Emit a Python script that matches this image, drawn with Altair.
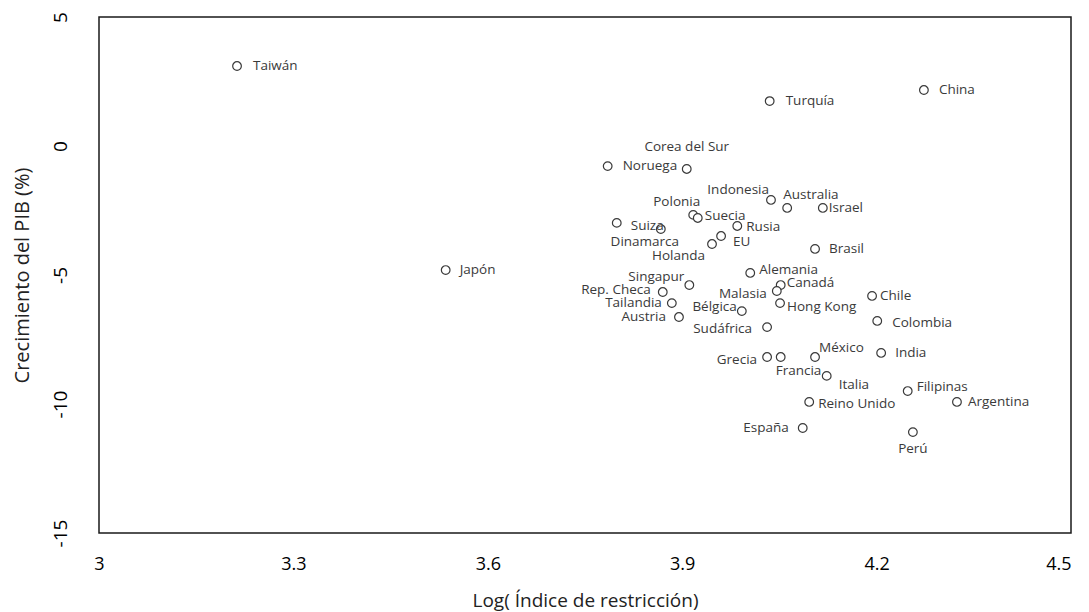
import altair as alt
import pandas as pd

countries = ["Taiwán", "Japón", "Turquía", "China", "Noruega", "Corea del Sur",
             "Indonesia", "Australia", "Israel", "Polonia", "Suecia", "Rusia",
             "Suiza", "Dinamarca", "EU", "Holanda", "Brasil", "Alemania",
             "Singapur", "Canadá", "Rep. Checa", "Malasia", "Tailandia",
             "Hong Kong", "Chile", "Bélgica", "Austria", "Sudáfrica", "Grecia",
             "Francia", "México", "Italia", "Reino Unido", "España", "Colombia",
             "India", "Filipinas", "Argentina", "Perú"]
log_index = [3.213, 3.535, 4.035, 4.273, 3.785, 3.907,
             4.037, 4.062, 4.117, 3.917, 3.924, 3.985,
             3.799, 3.867, 3.960, 3.946, 4.105, 4.005,
             3.911, 4.052, 3.870, 4.046, 3.884,
             4.051, 4.193, 3.992, 3.895, 4.031, 4.031,
             4.052, 4.105, 4.123, 4.096, 4.086, 4.201,
             4.207, 4.248, 4.324, 4.256]
gdp_growth = [3.10, -4.81, 1.74, 2.17, -0.78, -0.89,
              -2.09, -2.40, -2.40, -2.67, -2.79, -3.10,
              -2.98, -3.22, -3.49, -3.80, -3.99, -4.92,
              -5.39, -5.39, -5.66, -5.62, -6.09,
              -6.09, -5.81, -6.40, -6.63, -7.02, -8.18,
              -8.18, -8.18, -8.91, -9.92, -10.93, -6.78,
              -8.02, -9.50, -9.92, -11.09]

x_ticks = [3, 3.3, 3.6, 3.9, 4.2, 4.5]
y_ticks = [-15, -10, -5, 0, 5]

# label placement (style): dx, dy in px and alignment
placement = {
    "Taiwán": (16, 0, "left"), "Japón": (14, 0, "left"), "Turquía": (16, 0, "left"),
    "China": (15, 0, "left"), "Noruega": (15, 0, "left"),
    "Corea del Sur": (0, -22, "center"), "Indonesia": (-2, -10, "right"),
    "Australia": (-4, -13, "left"), "Israel": (6, 0, "left"),
    "Polonia": (7, -13, "right"), "Suecia": (7, -2, "left"), "Rusia": (9, 1, "left"),
    "Suiza": (14, 3, "left"), "Dinamarca": (-16, 13, "center"), "EU": (12, 6, "left"),
    "Holanda": (-7, 12, "right"), "Brasil": (14, 0, "left"), "Alemania": (9, -3, "left"),
    "Singapur": (-5, -8, "right"), "Canadá": (6, -2, "left"),
    "Rep. Checa": (-12, -2, "right"), "Malasia": (-10, 3, "right"),
    "Tailandia": (-10, 0, "right"), "Hong Kong": (7, 4, "left"), "Chile": (8, 0, "left"),
    "Bélgica": (-5, -4, "right"), "Austria": (-13, 0, "right"),
    "Sudáfrica": (-15, 2, "right"), "Grecia": (-10, 3, "right"),
    "Francia": (-5, 14, "left"), "México": (4, -9, "left"), "Italia": (12, 9, "left"),
    "Reino Unido": (9, 2, "left"), "España": (-14, 0, "right"),
    "Colombia": (15, 2, "left"), "India": (14, 0, "left"), "Filipinas": (9, -4, "left"),
    "Argentina": (11, 0, "left"), "Perú": (0, 17, "center"),
}

df = pd.DataFrame({"pais": countries, "x": log_index, "y": gdp_growth})

# keep the last tick label inside the page: right-align it at the plot edge
x_label_align = {"condition": {"test": "datum.value >= 4.49", "value": "right"},
                 "value": "center"}

x_enc = alt.X("x:Q", scale=alt.Scale(domain=[3, 4.5], nice=False, zero=False),
              axis=alt.Axis(values=x_ticks, format=".1~f", labelAlign=x_label_align,
                            title="Log( Índice de restricción)",
                            grid=False, domain=False, ticks=False, labelPadding=22,
                            labelFlush=False, labelOverlap=False,
                            labelFontSize=18, titleFontSize=19, titlePadding=18,
                            labelColor="#000000", titleColor="#222222",
                            labelFont="Open Sans", titleFont="Open Sans", titleFontWeight="normal"))
y_enc = alt.Y("y:Q", scale=alt.Scale(domain=[-15, 5], nice=False, zero=False),
              axis=alt.Axis(values=y_ticks, title="Crecimiento del PIB (%)",
                            labelExpr="toString(datum.value)",
                            grid=False, domain=False, ticks=False, labelAngle=270,
                            labelFlush=False, labelOverlap=False,
                            labelAlign="center", labelBaseline="bottom", labelPadding=29,
                            labelFontSize=19, titleFontSize=20, titlePadding=19,
                            labelColor="#000000", titleColor="#222222",
                            labelFont="Open Sans", titleFont="Open Sans", titleFontWeight="normal"))

points = alt.Chart(df).mark_point(shape="circle", size=75, filled=False, fill="white",
                                  fillOpacity=1, stroke="#3a3a3a", strokeWidth=1.2,
                                  opacity=1).encode(x=x_enc, y=y_enc)

layers = [points]
for name, (dx, dy, align) in placement.items():
    sub = df[df["pais"] == name]
    layers.append(
        alt.Chart(sub).mark_text(dx=dx, dy=dy, align=align, baseline="middle",
                                 font="Open Sans", fontSize=13.5, color="#3a3a3a")
        .encode(x="x:Q", y="y:Q", text="pais:N")
    )

chart = alt.layer(*layers).properties(
    width=972, height=516,
    autosize=alt.AutoSizeParams(type="none"),
    padding={"left": 91, "top": 9, "right": 10, "bottom": 84},
).configure_view(stroke="#1a1a1a", strokeWidth=1.5)

chart.save("out.html", embed_options={"renderer": "svg", "actions": False})
